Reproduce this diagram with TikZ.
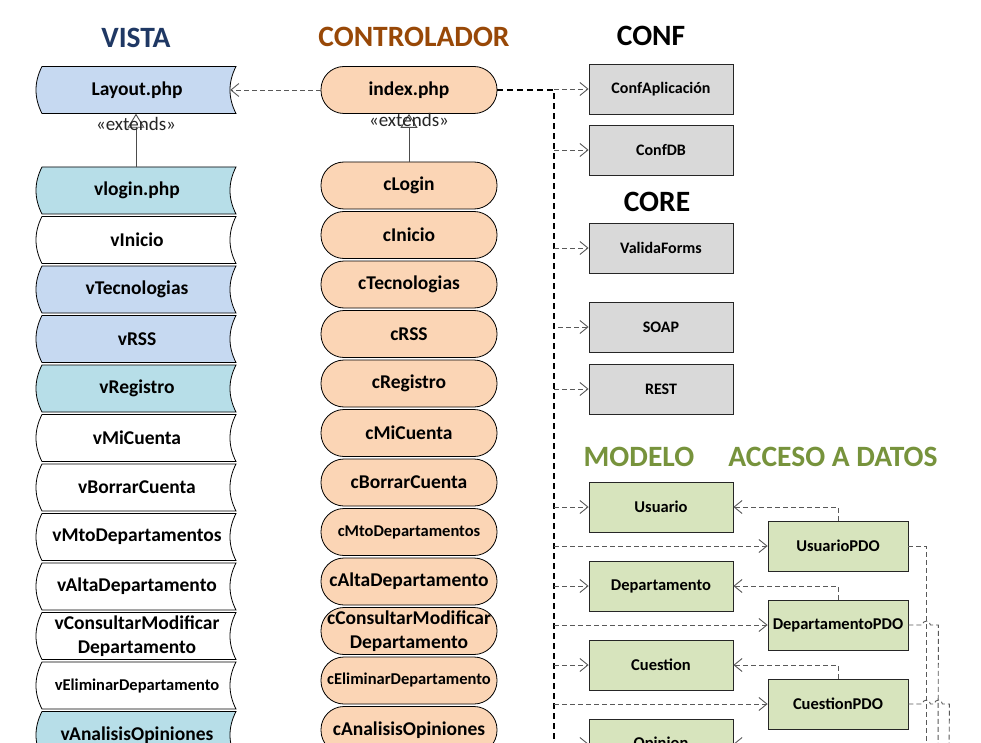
\documentclass[tikz,border=0pt]{standalone}
\usepackage{fontspec}
\setmainfont{Carlito}
\usetikzlibrary{arrows.meta}
\definecolor{vblue}{HTML}{C6D9F1}
\definecolor{vcyan}{HTML}{B7DEE8}
\definecolor{cpeach}{HTML}{FBD5B5}
\definecolor{cgray}{HTML}{D9D9D9}
\definecolor{mgreen}{HTML}{D7E4BD}
\definecolor{hnavy}{HTML}{1F3864}
\definecolor{hbrown}{HTML}{984807}
\definecolor{hgreen}{HTML}{77933C}
\definecolor{dashgray}{HTML}{595959}
\newcommand\fntL{\bfseries\fontsize{19.5}{23.5}\selectfont}
\newcommand\fntS{\bfseries\fontsize{16.5}{20}\selectfont}
\newcommand\fntG{\bfseries\fontsize{16}{19}\selectfont}
\newcommand\fntH{\bfseries\fontsize{29.5}{32}\selectfont}
\newcommand\fntE{\fontsize{19}{22}\selectfont}
\newcommand\vistabox[5]{%
  \path[vshape,fill=#3] (42,#2-23.5) -- (236,#2-23.5)
    .. controls (228,#2-8) and (228,#2+8) .. (236,#2+23.5)
    -- (42,#2+23.5)
    .. controls (34,#2+8) and (34,#2-8) .. (42,#2-23.5) -- cycle;
  \node[vlabel,font=#4] (#1) at (137,#2) {#5};
}
\tikzset{
  vshape/.style={draw=black,line width=0.8pt},
  vlabel/.style={minimum width=194pt,minimum height=47pt,inner sep=0pt,align=center},
  cnode/.style={draw=black,line width=0.8pt,fill=cpeach,rounded corners=23pt,
    minimum width=176pt,minimum height=47pt,inner sep=0pt,align=center,font=\fntL},
  gbox/.style={draw=black!85,line width=0.8pt,fill=cgray,minimum width=144pt,
    minimum height=50pt,inner sep=0pt,font=\fntG},
  mbox/.style={draw=black!85,line width=0.8pt,fill=mgreen,minimum width=144pt,
    minimum height=50pt,inner sep=0pt,font=\fntS},
  pbox/.style={mbox,minimum width=140pt},
  head/.style={font=\fntH,inner sep=0pt},
  dline/.style={draw=dashgray,line width=0.9pt,dash pattern=on 5pt off 3pt},
  dep/.style={dline,-{Straight Barb[length=8pt,width=13pt]}},
  trunkline/.style={draw=black,line width=1.6pt,dash pattern=on 6pt off 4pt},
  extline/.style={draw=black!70,line width=0.9pt,-{Triangle[open,length=14pt,width=17pt]}},
  extlabel/.style={font=\fntE,inner sep=0pt,text=black!85}
}
\begin{document}
\begin{tikzpicture}[x=1pt,y=-1pt]
\useasboundingbox (0,0) rectangle (981,743);
\fill[white] (0,0) rectangle (981,743);
\clip (0,0) rectangle (981,743);

% headings
\node[head,text=hnavy] (hvista) at (136,38) {VISTA};
\node[head,text=hbrown] (hctrl) at (414,37) {CONTROLADOR};
\node[head,text=black] (hconf) at (651,36) {CONF};
\node[head,text=black] (hcore) at (657,202) {CORE};
\node[head,text=hgreen] (hmodelo) at (639,457) {MODELO};
\node[head,text=hgreen] (hacceso) at (833,457) {ACCESO A DATOS};

% VISTA column
\vistabox{layout}{90}{vblue}{\fntL}{Layout.php}
\vistabox{vlogin}{190.5}{vcyan}{\fntL}{vlogin.php}
\vistabox{vinicio}{240}{white}{\fntL}{vInicio}
\vistabox{vtec}{289.5}{vblue}{\fntL}{vTecnologias}
\vistabox{vrss}{339}{vblue}{\fntL}{vRSS}
\vistabox{vreg}{388.5}{vcyan}{\fntL}{vRegistro}
\vistabox{vmic}{438}{white}{\fntL}{vMiCuenta}
\vistabox{vbor}{487.5}{white}{\fntL}{vBorrarCuenta}
\vistabox{vmto}{537}{white}{\fntL}{vMtoDepartamentos}
\vistabox{valta}{586.5}{white}{\fntL}{vAltaDepartamento}
\vistabox{vcons}{636}{white}{\fntL}{vConsultarModificar\\Departamento}
\vistabox{velim}{685.5}{white}{\fntS}{vEliminarDepartamento}
\vistabox{vanal}{735}{vcyan}{\fntL}{vAnalisisOpiniones}

% CONTROLADOR column
\node[cnode] (index) at (409,90) {index.php};
\node[cnode] (clogin) at (409,185.5) {cLogin};
\node[cnode] (cinicio) at (409,235) {cInicio};
\node[cnode] (ctec) at (409,284.5) {cTecnologias};
\node[cnode] (crss) at (409,334) {cRSS};
\node[cnode] (creg) at (409,383.5) {cRegistro};
\node[cnode] (cmic) at (409,433) {cMiCuenta};
\node[cnode] (cbor) at (409,482.5) {cBorrarCuenta};
\node[cnode,font=\fntS] (cmto) at (409,532) {cMtoDepartamentos};
\node[cnode] (calta) at (409,581.5) {cAltaDepartamento};
\node[cnode] (ccons) at (409,631) {cConsultarModificar\\Departamento};
\node[cnode,font=\fntS] (celim) at (409,680.5) {cEliminarDepartamento};
\node[cnode] (canal) at (409,730) {cAnalisisOpiniones};

% extends
\draw[extline] ([xshift=-1pt]vlogin.north) -- ([xshift=-1pt]layout.south);
\node[extlabel] (ext1) at (136,124) {«extends»};
\draw[extline] (clogin.north) -- (index.south);
\node[extlabel] (ext2) at (409,120) {«extends»};

% index -> Layout
\draw[dep] (index.west) -- ([xshift=-4pt]layout.east);

% CONF / CORE boxes
\node[gbox] (confapp) at (661,89) {ConfAplicación};
\node[gbox] (confdb) at (661,150) {ConfDB};
\node[gbox] (valida) at (661,248) {ValidaForms};
\node[gbox] (soap) at (661,327) {SOAP};
\node[gbox] (rest) at (661,389) {REST};

% MODELO / ACCESO boxes
\node[mbox] (usuario) at (661,507) {Usuario};
\node[pbox] (upd) at (838,546) {UsuarioPDO};
\node[mbox] (depto) at (661,586) {Departamento};
\node[pbox] (dpd) at (838,625) {DepartamentoPDO};
\node[mbox] (cuestion) at (661,665) {Cuestion};
\node[pbox] (cpd) at (838,704) {CuestionPDO};
\node[mbox] (opinion) at (661,744) {Opinion};

% trunk
\coordinate (trunk) at (554,90);
\coordinate (trunkend) at (554,760);
\draw[trunkline] (index.east) -- (trunk) -- (trunkend);

\draw[dep] (trunk |- confapp.west) -- (confapp.west);
\draw[dep] (trunk |- confdb.west) -- (confdb.west);
\draw[dep] (trunk |- valida.west) -- (valida.west);
\draw[dep] ([xshift=4pt]trunk |- soap.west) -- (soap.west);
\draw[dep] (trunk |- rest.west) -- (rest.west);
\draw[dep] (trunk |- usuario.west) -- (usuario.west);
\draw[dep] (trunk |- upd.west) -- (upd.west);
\draw[dep] (trunk |- depto.west) -- (depto.west);
\draw[dep] (trunk |- dpd.west) -- (dpd.west);
\draw[dep] (trunk |- cuestion.west) -- (cuestion.west);
\draw[dep] (trunk |- cpd.west) -- (cpd.west);
\draw[dep] (trunk |- opinion.west) -- (opinion.west);

% PDO -> model
\draw[dep] (upd.north) -- (upd.north |- usuario.east) -- (usuario.east);
\draw[dep] (dpd.north) -- (dpd.north |- depto.east) -- (depto.east);
\draw[dep] (cpd.north) -- (cpd.north |- cuestion.east) -- (cuestion.east);
\coordinate (opd) at (838,760);
\draw[dep] (opd) -- (opd |- opinion.east) -- (opinion.east);

% PDO -> down
\coordinate (b1) at (926,760);
\coordinate (b2) at (938,760);
\coordinate (b3) at (949,760);
\draw[dline] (upd.east) -| (b1);
\draw[dline] (dpd.east) -- ([xshift=14pt]dpd.east)
  arc[start angle=180,end angle=0,radius=4pt]
  -- ([xshift=30pt]dpd.east) -- (b2);
\draw[dline] (cpd.east) -- ([xshift=14pt]cpd.east)
  arc[start angle=180,end angle=0,radius=4pt]
  -- ([xshift=26pt]cpd.east)
  arc[start angle=180,end angle=0,radius=4pt]
  -- ([xshift=41pt]cpd.east) -- (b3);
\end{tikzpicture}
\end{document}
